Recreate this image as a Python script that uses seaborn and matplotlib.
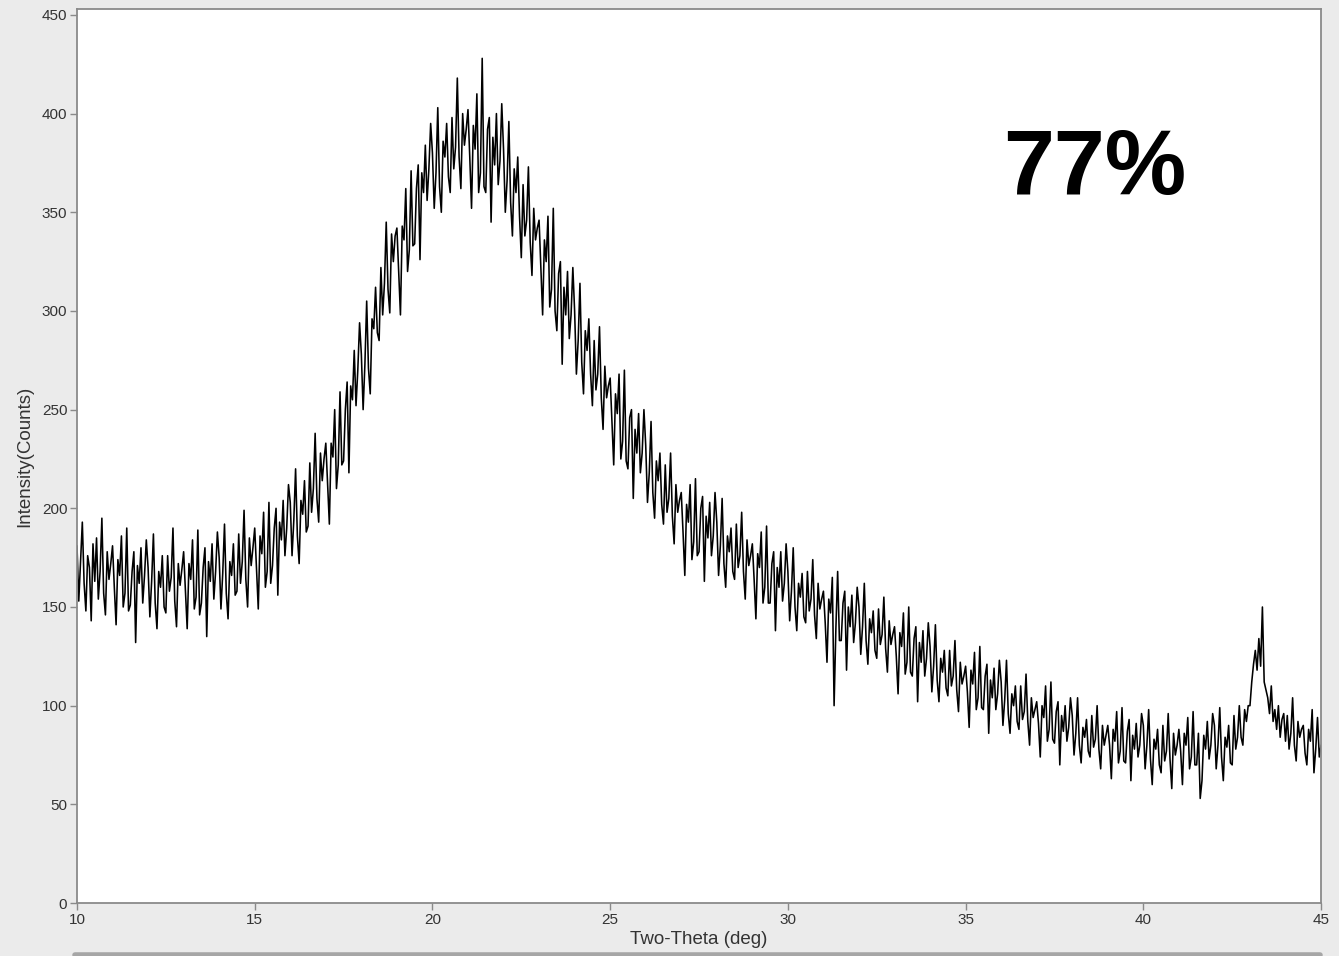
import numpy as np
import pandas as pd
import seaborn as sns
import matplotlib.pyplot as plt
from matplotlib.ticker import MultipleLocator
from matplotlib.lines import Line2D

# Scan settings: 10-45 deg two-theta, 0.05 deg step
theta_start, theta_stop, theta_step = 10.0, 45.0, 0.05

# Measured intensities (counts), one list per 5-degree segment
counts_10_15 = [
    181, 153, 173, 193, 162, 148, 176, 170, 143, 182,
    163, 185, 154, 168, 195, 157, 146, 178, 164, 172,
    181, 160, 141, 174, 166, 186, 150, 157, 190, 148,
    151, 168, 178, 132, 171, 162, 180, 152, 166, 184,
    170, 145, 163, 187, 152, 139, 168, 160, 176, 150,
    147, 176, 158, 165, 190, 153, 140, 172, 161, 169,
    178, 158, 139, 172, 164, 184, 149, 155, 189, 146,
    152, 170, 180, 135, 173, 163, 182, 154, 168, 188,
    175, 149, 167, 192, 157, 144, 173, 166, 182, 156,
    158, 187, 162, 173, 199, 164, 150, 185, 171, 180,
]
counts_15_20 = [
    190, 170, 149, 186, 177, 198, 160, 168, 203, 162,
    171, 190, 200, 156, 193, 184, 204, 176, 190, 212,
    203, 176, 194, 220, 186, 172, 204, 197, 214, 188,
    191, 223, 198, 210, 238, 205, 193, 228, 214, 225,
    233, 212, 192, 233, 226, 250, 210, 222, 259, 222,
    224, 250, 264, 218, 262, 255, 280, 252, 270, 294,
    278, 250, 273, 305, 271, 258, 296, 291, 312, 289,
    285, 322, 298, 314, 345, 311, 299, 339, 325, 338,
    342, 320, 298, 343, 336, 362, 320, 331, 371, 333,
    334, 362, 374, 326, 370, 360, 384, 356, 372, 395,
]
counts_20_25 = [
    380, 352, 370, 403, 363, 350, 386, 378, 395, 368,
    360, 398, 372, 383, 418, 378, 362, 400, 384, 392,
    402, 378, 352, 394, 382, 410, 360, 370, 428, 363,
    360, 392, 398, 345, 388, 374, 400, 364, 376, 405,
    382, 350, 366, 396, 355, 338, 372, 360, 378, 348,
    327, 364, 338, 346, 373, 335, 318, 352, 336, 342,
    346, 322, 298, 336, 325, 348, 302, 311, 352, 300,
    290, 319, 325, 273, 312, 298, 320, 286, 298, 322,
    300, 268, 285, 314, 274, 258, 290, 280, 296, 268,
    252, 285, 260, 268, 292, 256, 240, 272, 256, 262,
]
counts_25_30 = [
    266, 244, 222, 258, 248, 268, 225, 234, 270, 224,
    220, 246, 250, 205, 240, 228, 248, 218, 228, 250,
    232, 203, 218, 244, 208, 195, 224, 214, 228, 202,
    192, 222, 198, 205, 228, 196, 182, 212, 198, 204,
    208, 188, 166, 202, 193, 212, 174, 183, 215, 176,
    178, 200, 206, 163, 196, 185, 203, 176, 186, 208,
    193, 166, 181, 205, 172, 160, 186, 178, 190, 168,
    164, 192, 170, 176, 198, 168, 154, 184, 171, 176,
    182, 164, 144, 177, 170, 188, 152, 160, 191, 152,
    152, 172, 178, 138, 170, 160, 178, 153, 162, 182,
]
counts_30_35 = [
    168, 143, 158, 180, 150, 138, 162, 155, 167, 145,
    142, 168, 148, 154, 174, 146, 134, 162, 149, 154,
    158, 142, 122, 154, 147, 165, 100, 139, 168, 133,
    133, 152, 158, 118, 150, 140, 156, 132, 142, 160,
    150, 126, 140, 162, 133, 121, 144, 137, 148, 128,
    124, 149, 131, 136, 155, 129, 117, 143, 131, 136,
    140, 125, 106, 137, 130, 147, 116, 122, 150, 117,
    115, 134, 140, 102, 132, 122, 138, 115, 124, 142,
    130, 107, 120, 141, 113, 102, 124, 117, 128, 109,
    105, 128, 110, 115, 133, 108, 97, 122, 111, 115,
]
counts_35_40 = [
    120, 107, 89, 118, 111, 127, 98, 104, 130, 99,
    98, 115, 121, 86, 113, 104, 119, 98, 106, 123,
    112, 90, 103, 123, 96, 86, 106, 100, 110, 92,
    88, 110, 93, 97, 116, 92, 80, 104, 94, 98,
    102, 91, 74, 100, 94, 110, 82, 88, 112, 83,
    81, 97, 102, 70, 95, 87, 100, 82, 89, 104,
    95, 75, 86, 104, 80, 71, 89, 84, 93, 77,
    74, 95, 79, 83, 100, 78, 68, 90, 80, 85,
    90, 80, 63, 88, 82, 97, 71, 77, 99, 72,
    71, 87, 93, 62, 85, 78, 91, 74, 80, 96,
]
counts_40_45 = [
    90, 68, 80, 98, 73, 60, 83, 78, 88, 70,
    66, 90, 72, 77, 96, 73, 58, 86, 75, 80,
    88, 77, 60, 86, 80, 94, 68, 74, 97, 70,
    70, 86, 53, 62, 85, 78, 92, 73, 80, 96,
    90, 68, 80, 99, 74, 62, 84, 79, 90, 71,
    70, 95, 78, 84, 100, 84, 80, 98, 92, 100,
    100, 112, 121, 128, 118, 134, 120, 150, 112, 108,
    104, 96, 110, 92, 98, 88, 100, 84, 93, 96,
    82, 95, 78, 86, 104, 80, 72, 92, 84, 88,
    90, 76, 70, 88, 82, 98, 66, 78, 94, 74,
    80,
]

crystallinity_label = "77%"

intensity = (counts_10_15 + counts_15_20 + counts_20_25 + counts_25_30
             + counts_30_35 + counts_35_40 + counts_40_45)
n_points = int(round((theta_stop - theta_start) / theta_step)) + 1
two_theta = np.linspace(theta_start, theta_stop, n_points)
df = pd.DataFrame({"two_theta": two_theta, "intensity": intensity})

sns.set_theme(style="white")
plt.rcParams["font.family"] = ["Liberation Sans", "DejaVu Sans"]

fig = plt.figure(figsize=(13.39, 9.56), dpi=100, facecolor="#ebebeb")
ax = fig.add_axes([0.0575, 0.0554, 0.9291, 0.9352])
ax.set_facecolor("white")

sns.lineplot(data=df, x="two_theta", y="intensity", ax=ax, color="black",
             linewidth=1.15, estimator=None, sort=False)

ax.set_xlim(10, 45)
ax.set_ylim(0, 453)
ax.xaxis.set_major_locator(MultipleLocator(5))
ax.xaxis.set_minor_locator(MultipleLocator(1))
ax.yaxis.set_major_locator(MultipleLocator(50))

for side, spine in ax.spines.items():
    spine.set_visible(True)
    spine.set_color("#8a8a8a")
    spine.set_linewidth(1.3)

ax.tick_params(axis="both", which="major", direction="out", length=5,
               width=1, color="#8a8a8a", labelsize=11, labelcolor="#333333",
               pad=2)
ax.tick_params(axis="x", which="minor", direction="out", length=4,
               width=1, color="#8a8a8a")
ax.tick_params(left=True, bottom=True)

ax.set_xlabel("Two-Theta (deg)", fontsize=13.5, color="#333333", labelpad=3)
ax.set_ylabel("Intensity(Counts)", fontsize=13.5, color="#333333", labelpad=6)

ax.text(0.818, 0.82, crystallinity_label, transform=ax.transAxes,
        fontsize=66, fontweight="bold", color="black",
        ha="center", va="center")

# scroll bar strip along the bottom edge
fig.add_artist(Line2D([75 / 1339, 1320 / 1339], [0.0015, 0.0015],
                      transform=fig.transFigure, color="#a6a6a6",
                      linewidth=4))

fig.savefig("out.png", dpi=100, facecolor=fig.get_facecolor())
